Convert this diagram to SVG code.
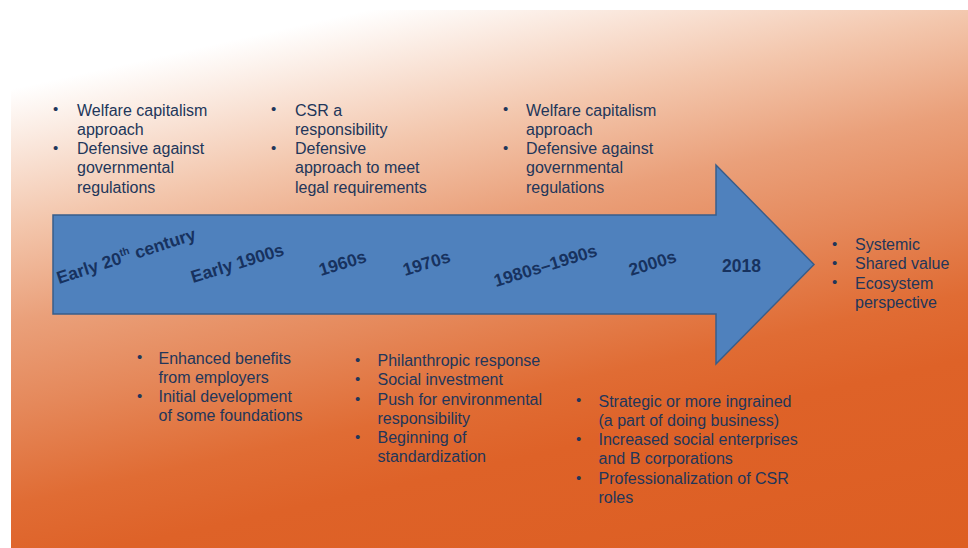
<svg xmlns="http://www.w3.org/2000/svg" width="968" height="548" viewBox="0 0 968 548">
  <defs>
    <linearGradient id="bg" gradientUnits="userSpaceOnUse" x1="150" y1="0" x2="304.5" y2="695.4">
      <stop offset="0.08" stop-color="#FFFFFF"/>
      <stop offset="0.27" stop-color="#F3C6AC"/>
      <stop offset="0.40" stop-color="#EAA07A"/>
      <stop offset="0.52" stop-color="#E5885A"/>
      <stop offset="0.65" stop-color="#E06C34"/>
      <stop offset="0.74" stop-color="#DE6228"/>
      <stop offset="1" stop-color="#DD5E22"/>
    </linearGradient>
    <style>
      .era { font-family: "Liberation Sans", Arial, sans-serif; font-size: 17.5px; font-weight: bold; fill: #17325F; }
      .item { font-family: "Liberation Sans", Arial, sans-serif; font-size: 16px; fill: #22365A; }
      .dot { font-family: "Liberation Sans", Arial, sans-serif; font-size: 15px; fill: #22365A; }
    </style>
  </defs>

  <!-- page -->
  <rect x="0" y="0" width="968" height="548" fill="#FFFFFF"/>
  <rect x="11" y="10" width="957" height="538" fill="url(#bg)"/>

  <!-- timeline arrow -->
  <g id="timeline-arrow">
    <path d="M53 215 H716 V165 L814 264.5 L716 364 V314 H53 Z" fill="#4F81BD" stroke="#385D8A" stroke-width="1.5" stroke-linejoin="miter"/>
  </g>

  <!-- era labels along the arrow -->
  <g id="era-labels">
    <text id="era-early-20th" class="era" transform="translate(59 284) rotate(-18)">Early 20<tspan font-size="10.5" dy="-7">th</tspan><tspan dy="7">  century</tspan></text>
    <text id="era-early-1900s" class="era" transform="translate(193 283) rotate(-17)">Early 1900s</text>
    <text id="era-1960s" class="era" transform="translate(321 276) rotate(-17)">1960s</text>
    <text id="era-1970s" class="era" transform="translate(405 276) rotate(-17)">1970s</text>
    <text id="era-1980s-1990s" class="era" transform="translate(496 287) rotate(-17)">1980s–1990s</text>
    <text id="era-2000s" class="era" transform="translate(631 276) rotate(-17)">2000s</text>
    <text id="era-2018" class="era" x="722" y="272">2018</text>
  </g>

  <!-- notes above the arrow -->
  <g id="note-early-20th">
    <text class="dot" x="53" y="114">•</text>
    <text class="dot" x="53" y="153">•</text>
    <text class="item" x="77" y="115.5">Welfare capitalism</text>
    <text class="item" x="77" y="134.8">approach</text>
    <text class="item" x="77" y="154">Defensive against</text>
    <text class="item" x="77" y="173.3">governmental</text>
    <text class="item" x="77" y="192.6">regulations</text>
  </g>

  <g id="note-1960s">
    <text class="dot" x="271" y="114">•</text>
    <text class="dot" x="271" y="153">•</text>
    <text class="item" x="295" y="115.5">CSR a</text>
    <text class="item" x="295" y="134.8">responsibility</text>
    <text class="item" x="295" y="154">Defensive</text>
    <text class="item" x="295" y="173.3">approach to meet</text>
    <text class="item" x="295" y="192.6">legal requirements</text>
  </g>

  <g id="note-1980s-1990s">
    <text class="dot" x="503" y="114">•</text>
    <text class="dot" x="503" y="153">•</text>
    <text class="item" x="526" y="115.5">Welfare capitalism</text>
    <text class="item" x="526" y="134.8">approach</text>
    <text class="item" x="526" y="154">Defensive against</text>
    <text class="item" x="526" y="173.3">governmental</text>
    <text class="item" x="526" y="192.6">regulations</text>
  </g>

  <!-- notes below the arrow -->
  <g id="note-early-1900s">
    <text class="dot" x="137" y="362">•</text>
    <text class="dot" x="137" y="401">•</text>
    <text class="item" x="158.5" y="363.5">Enhanced benefits</text>
    <text class="item" x="158.5" y="382.8">from employers</text>
    <text class="item" x="158.5" y="402.1">Initial development</text>
    <text class="item" x="158.5" y="421.4">of some foundations</text>
  </g>

  <g id="note-1970s">
    <text class="dot" x="355" y="365">•</text>
    <text class="dot" x="355" y="384">•</text>
    <text class="dot" x="355" y="403.5">•</text>
    <text class="dot" x="355" y="442">•</text>
    <text class="item" x="377.5" y="366">Philanthropic response</text>
    <text class="item" x="377.5" y="385.2">Social investment</text>
    <text class="item" x="377.5" y="404.5">Push for environmental</text>
    <text class="item" x="377.5" y="423.7">responsibility</text>
    <text class="item" x="377.5" y="443">Beginning of</text>
    <text class="item" x="377.5" y="462.2">standardization</text>
  </g>

  <g id="note-2000s">
    <text class="dot" x="576" y="405">•</text>
    <text class="dot" x="576" y="444">•</text>
    <text class="dot" x="576" y="482.5">•</text>
    <text class="item" x="598.5" y="406.5">Strategic or more ingrained</text>
    <text class="item" x="598.5" y="425.8">(a part of doing business)</text>
    <text class="item" x="598.5" y="445.1">Increased social enterprises</text>
    <text class="item" x="598.5" y="464.4">and B corporations</text>
    <text class="item" x="598.5" y="483.7">Professionalization of CSR</text>
    <text class="item" x="598.5" y="503">roles</text>
  </g>

  <!-- note beyond the arrow head -->
  <g id="note-2018">
    <text class="dot" x="832" y="248.5">•</text>
    <text class="dot" x="832" y="268">•</text>
    <text class="dot" x="832" y="287">•</text>
    <text class="item" x="855" y="250">Systemic</text>
    <text class="item" x="855" y="269.3">Shared value</text>
    <text class="item" x="855" y="288.6">Ecosystem</text>
    <text class="item" x="855" y="307.9">perspective</text>
  </g>
</svg>
